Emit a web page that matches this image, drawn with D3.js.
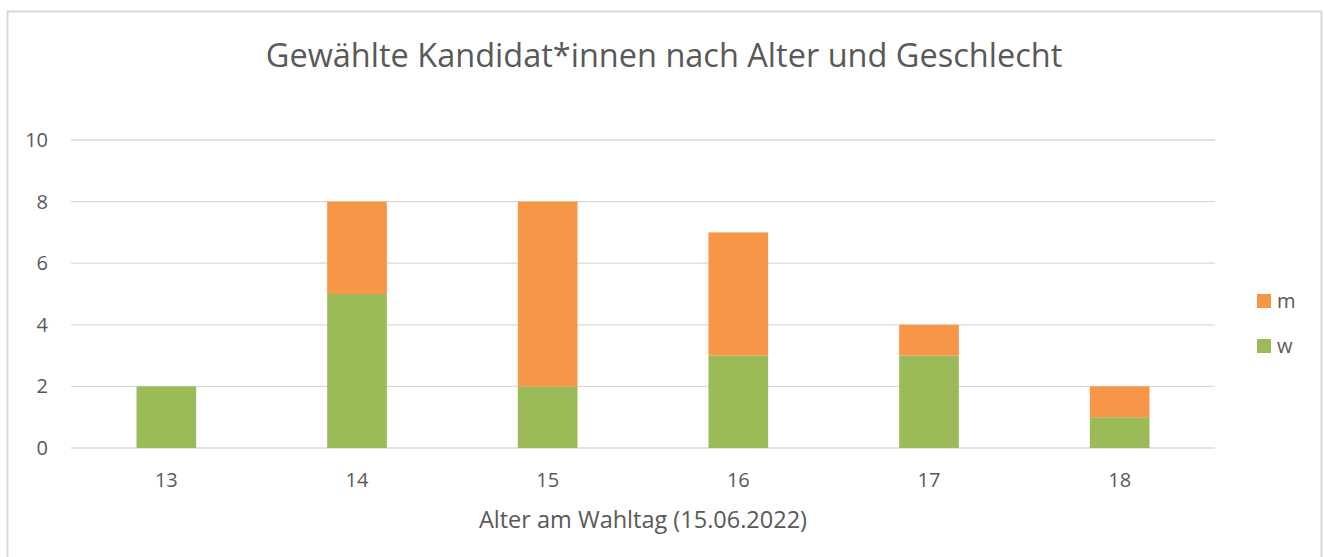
<!DOCTYPE html>
<html>
<head>
<meta charset="utf-8">
<script src="https://cdn.jsdelivr.net/npm/d3@7"></script>
<style>
  body { margin: 0; background: #fff; }
  text { font-family: "Open Sans", "Liberation Sans", sans-serif; fill: #595959; }
</style>
</head>
<body>
<svg id="chart"></svg>
<script>
const ages = ["13", "14", "15", "16", "17", "18"];
const seriesKeys = ["w", "m"];
const wValues = [2, 5, 2, 3, 3, 1];
const mValues = [0, 3, 6, 4, 1, 1];
const yTicks = [0, 2, 4, 6, 8, 10];

const width = 1324, height = 557;
const margin = {top: 140, right: 109, bottom: 109, left: 71};

const svg = d3.select("#chart")
    .attr("width", width)
    .attr("height", height);

// outer chart border (bottom runs off the picture)
svg.append("path")
    .attr("d", `M7.5,${height} V11.5 H1321.5 V${height}`)
    .attr("fill", "none")
    .attr("stroke", "#d9d9d9")
    .attr("stroke-width", 2);

const rows = ages.map((a, i) => ({age: a, w: wValues[i], m: mValues[i]}));
const stacked = d3.stack().keys(seriesKeys)(rows);

const x = d3.scaleBand()
    .domain(ages)
    .range([margin.left, width - margin.right])
    .paddingInner(0.687)
    .paddingOuter(0.3435);

const y = d3.scaleLinear()
    .domain([0, 10])
    .range([height - margin.bottom, margin.top]);

const color = d3.scaleOrdinal()
    .domain(seriesKeys)
    .range(["#9bbb59", "#f79646"]);

// gridlines
svg.append("g")
    .selectAll("line")
    .data(yTicks)
    .join("line")
    .attr("x1", margin.left)
    .attr("x2", width - margin.right)
    .attr("y1", d => y(d))
    .attr("y2", d => y(d))
    .attr("stroke", "#d9d9d9")
    .attr("stroke-width", 1.3);

// y tick labels
svg.append("g")
    .selectAll("text")
    .data(yTicks)
    .join("text")
    .attr("x", 48)
    .attr("y", d => y(d))
    .attr("dy", "0.35em")
    .attr("text-anchor", "end")
    .style("font-size", "20px")
    .text(d => d);

// bars
svg.append("g")
    .selectAll("g")
    .data(stacked)
    .join("g")
    .attr("fill", d => color(d.key))
    .selectAll("rect")
    .data(d => d)
    .join("rect")
    .attr("x", d => x(d.data.age))
    .attr("width", x.bandwidth())
    .attr("y", d => y(d[1]))
    .attr("height", d => y(d[0]) - y(d[1]));

// x tick labels
svg.append("g")
    .selectAll("text")
    .data(ages)
    .join("text")
    .attr("x", d => x(d) + x.bandwidth() / 2)
    .attr("y", 487)
    .attr("text-anchor", "middle")
    .style("font-size", "20px")
    .text(d => d);

// axis title
svg.append("text")
    .attr("x", (margin.left + width - margin.right) / 2)
    .attr("y", 528)
    .attr("text-anchor", "middle")
    .style("font-size", "23.5px")
    .text("Alter am Wahltag (15.06.2022)");

// chart title
svg.append("text")
    .attr("x", 664)
    .attr("y", 67)
    .attr("text-anchor", "middle")
    .style("font-size", "32.5px")
    .text("Gewählte Kandidat*innen nach Alter und Geschlecht");

// legend (m on top)
const legend = svg.append("g")
    .selectAll("g")
    .data(["m", "w"])
    .join("g")
    .attr("transform", (d, i) => `translate(1257,${294 + i * 45})`);

legend.append("rect")
    .attr("width", 14)
    .attr("height", 14)
    .attr("fill", d => color(d));

legend.append("text")
    .attr("x", 20)
    .attr("y", 7)
    .attr("dy", "0.35em")
    .style("font-size", "20px")
    .text(d => d);
</script>
</body>
</html>
